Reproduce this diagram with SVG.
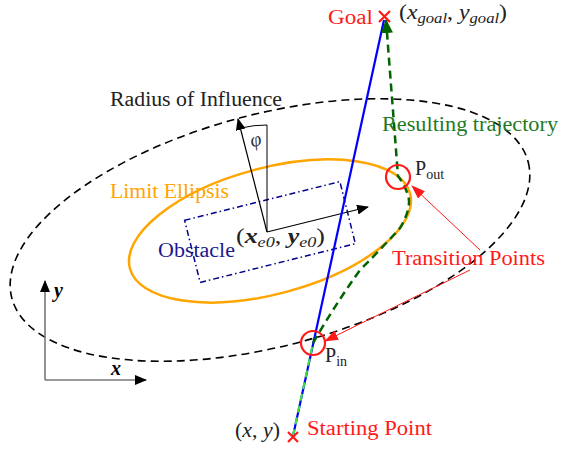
<svg xmlns="http://www.w3.org/2000/svg" width="561" height="449" viewBox="0 0 561 449">
<defs>
<style>
.t{font-family:'Liberation Serif','Times New Roman',serif;font-size:20px;}
.red{fill:#ff1a1a;}
.it{font-style:italic;}
.bi{font-style:italic;font-weight:bold;}
.sub{font-size:14px;}
</style>
<marker id="ah-k" viewBox="0 0 12 10" refX="11" refY="5" markerWidth="12" markerHeight="10" markerUnits="userSpaceOnUse" orient="auto"><path d="M0,0 L12,5 L0,10 Z" fill="#000"/></marker>
<marker id="ah-r" viewBox="0 0 14 10" refX="13" refY="5" markerWidth="14" markerHeight="10" markerUnits="userSpaceOnUse" orient="auto"><path d="M0,0 L14,5 L0,10 Z" fill="#ff1a1a"/></marker>
<marker id="ah-g" viewBox="0 0 14 12" refX="13" refY="6" markerWidth="14" markerHeight="12" markerUnits="userSpaceOnUse" orient="auto"><path d="M0,0 L14,6 L0,12 Z" fill="#006400"/></marker>
</defs>
<rect width="561" height="449" fill="#fff"/>

<g id="radius-of-influence">
<ellipse cx="270" cy="230" rx="267" ry="116" transform="rotate(-14.8 270 230)" fill="none" stroke="#000" stroke-width="1.6" stroke-dasharray="8 5"/>
<text class="t" x="110" y="106" fill="#222" textLength="172" lengthAdjust="spacingAndGlyphs">Radius of Influence</text>
</g>

<g id="limit-ellipsis">
<ellipse cx="270" cy="231" rx="145" ry="63" transform="rotate(-15 270 231)" fill="none" stroke="#ffa500" stroke-width="2.5"/>
<text class="t" x="110" y="198" fill="#ffa500" textLength="119" lengthAdjust="spacingAndGlyphs">Limit Ellipsis</text>
</g>

<g id="obstacle">
<rect x="-80" y="-32" width="160" height="64" transform="translate(270 232) rotate(-14)" fill="none" stroke="#00008b" stroke-width="1.5" stroke-dasharray="6 3 1.5 3"/>
<text class="t" x="158" y="257" fill="#1a1a8c" textLength="77" lengthAdjust="spacingAndGlyphs">Obstacle</text>
</g>

<g id="local-frame">
<line x1="267" y1="232" x2="368" y2="207" stroke="#000" stroke-width="1.2" marker-end="url(#ah-k)"/>
<line x1="267" y1="232" x2="238" y2="119" stroke="#000" stroke-width="1.2" marker-end="url(#ah-k)"/>
<line x1="267" y1="232" x2="267" y2="125" stroke="#000" stroke-width="1"/>
<path d="M267,125 A107,107 0 0 0 241,128" fill="none" stroke="#000" stroke-width="1"/>
<text class="t it" x="250" y="146" font-size="18" transform="rotate(-14 256 140)" fill="#333">φ</text>
<text class="t" x="236" y="243" textLength="89" lengthAdjust="spacingAndGlyphs" fill="#222">(<tspan class="bi">x</tspan><tspan class="sub it" dy="4">e0</tspan><tspan dy="-4">, </tspan><tspan class="bi">y</tspan><tspan class="sub it" dy="4">e0</tspan><tspan dy="-4">)</tspan></text>
</g>

<g id="axes">
<line x1="45" y1="380" x2="45" y2="281" stroke="#777" stroke-width="1.6" marker-end="url(#ah-k)"/>
<line x1="45" y1="380" x2="146" y2="380" stroke="#777" stroke-width="1.6" marker-end="url(#ah-k)"/>
<text class="t bi" x="54" y="297">y</text>
<text class="t bi" x="111" y="375">x</text>
</g>

<g id="connectors">
<line x1="293" y1="436" x2="384" y2="20" stroke="#0000ff" stroke-width="2.2"/>
<line x1="293" y1="436" x2="313" y2="343" stroke="#44dd44" stroke-width="2.2" stroke-dasharray="7 5"/>
<path d="M313,343 Q335,305 360,270 Q385,245 400,228 Q412,208 408,195 Q404,184 398,176 L386,20" fill="none" stroke="#006400" stroke-width="2.5" stroke-dasharray="8 5" marker-end="url(#ah-g)"/>
<line x1="480" y1="250" x2="412" y2="186" stroke="#ff1a1a" stroke-width="1" marker-end="url(#ah-r)"/>
<line x1="470" y1="270" x2="325" y2="341" stroke="#ff1a1a" stroke-width="1" marker-end="url(#ah-r)"/>
</g>

<g id="goal">
<path d="M379,11 L390,22 M390,11 L379,22" stroke="#ff1a1a" stroke-width="2.2"/>
<text class="t red" x="328" y="24" textLength="45" lengthAdjust="spacingAndGlyphs">Goal</text>
<text class="t" x="399" y="19" textLength="108" lengthAdjust="spacingAndGlyphs" fill="#222">(<tspan class="it">x</tspan><tspan class="sub it" dy="4">goal</tspan><tspan dy="-4">, </tspan><tspan class="it">y</tspan><tspan class="sub it" dy="4">goal</tspan><tspan dy="-4">)</tspan></text>
</g>

<g id="start">
<path d="M288,432 L298,442 M298,432 L288,442" stroke="#ff1a1a" stroke-width="2.2"/>
<text class="t" x="235" y="437" textLength="45" lengthAdjust="spacingAndGlyphs" fill="#222">(<tspan class="it">x</tspan>, <tspan class="it">y</tspan>)</text>
<text class="t red" x="307" y="435" textLength="125" lengthAdjust="spacingAndGlyphs">Starting Point</text>
</g>

<g id="p-out">
<circle cx="398" cy="177" r="12" fill="none" stroke="#ff1a1a" stroke-width="2.2"/>
<text class="t" x="415" y="175" fill="#222">P<tspan class="sub" dy="4">out</tspan></text>
</g>

<g id="p-in">
<circle cx="313" cy="343" r="12" fill="none" stroke="#ff1a1a" stroke-width="2.2"/>
<text class="t" x="325" y="362" fill="#222">P<tspan class="sub" dy="4">in</tspan></text>
</g>

<g id="resulting-trajectory-label">
<text class="t" x="382" y="131" fill="#1f7a1f" textLength="176" lengthAdjust="spacingAndGlyphs">Resulting trajectory</text>
</g>

<g id="transition-points">
<text class="t red" x="392" y="265" textLength="153" lengthAdjust="spacingAndGlyphs">Transition Points</text>
</g>
</svg>
